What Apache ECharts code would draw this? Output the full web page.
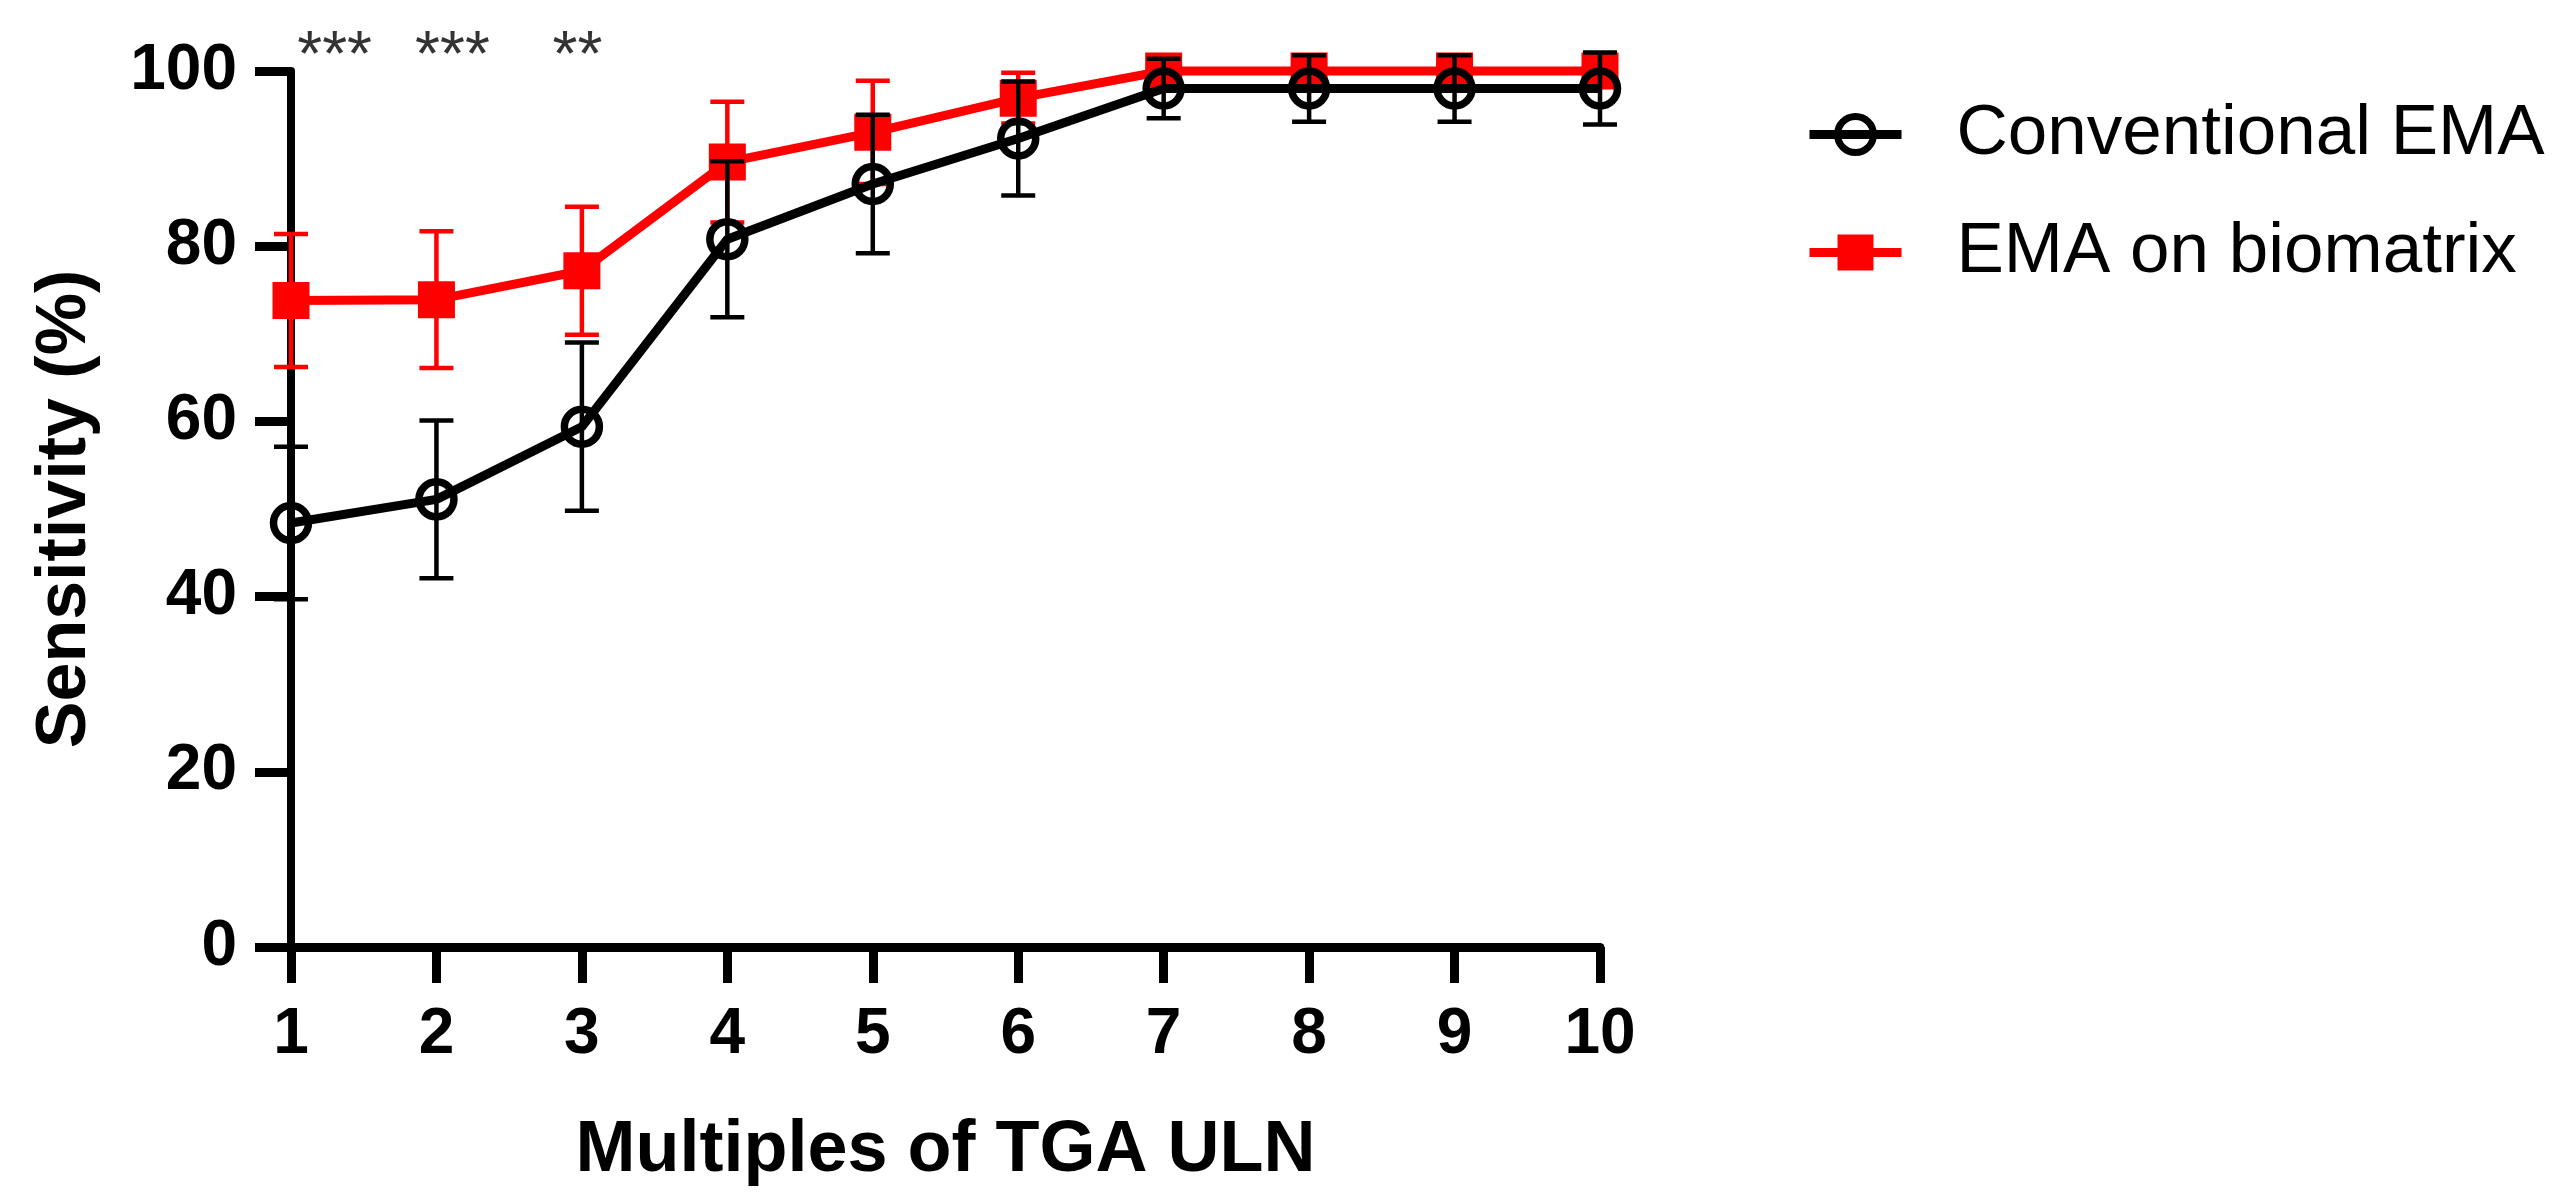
<!DOCTYPE html>
<html>
<head>
<meta charset="utf-8">
<script src="https://cdn.jsdelivr.net/npm/echarts@6/dist/echarts.min.js"></script>
<style>
html,body{margin:0;padding:0;background:#fff;}
#chart{width:2561px;height:1202px;}
</style>
</head>
<body>
<div id="chart"></div>
<script>
// ---- data ----
const multiples = [1, 2, 3, 4, 5, 6, 7, 8, 9, 10];
const conventionalMean = [48.4, 51.1, 59.4, 80.8, 87.1, 92.3, 98.0, 98.0, 98.0, 98.0];
const conventionalErr  = [8.7, 9.0, 9.6, 8.9, 7.9, 6.5, 3.4, 3.8, 3.8, 4.1];
const biomatrixMean = [73.8, 73.9, 77.2, 89.6, 93.0, 96.9, 100, 100, 100, 100];
const biomatrixErr  = [7.6, 7.8, 7.3, 6.9, 5.9, 2.9, 0, 0, 0, 0];
const sigLabels = ['***', '***', '**'];
const sigX = [1.30, 2.11, 2.97];
const sigY = [101.4, 101.4, 101.4];
const yTicks = [0, 20, 40, 60, 80, 100];

const seriesNames = ['Conventional EMA', 'EMA on biomatrix'];

function pairs(xs, ys) { return xs.map((x, i) => [x, ys[i]]); }
function errData(xs, m, e) { return xs.map((x, i) => [x, m[i] - e[i], m[i] + e[i]]); }

function errorBarSeries(name, data, color, z) {
  return {
    type: 'custom',
    name: name + ' err',
    z: z,
    silent: true,
    clip: false,
    data: data,
    encode: { x: 0, y: [1, 2] },
    renderItem: function (params, api) {
      const x = api.value(0);
      const lo = api.coord([x, api.value(1)]);
      const hi = api.coord([x, api.value(2)]);
      if (Math.abs(lo[1] - hi[1]) < 1) return null;
      const hw = 17;
      const st = { stroke: color, lineWidth: 4.5 };
      return {
        type: 'group',
        children: [
          { type: 'line', shape: { x1: lo[0], y1: lo[1], x2: hi[0], y2: hi[1] }, style: st },
          { type: 'line', shape: { x1: lo[0] - hw, y1: lo[1], x2: lo[0] + hw, y2: lo[1] }, style: st },
          { type: 'line', shape: { x1: hi[0] - hw, y1: hi[1], x2: hi[0] + hw, y2: hi[1] }, style: st }
        ]
      };
    }
  };
}

const chart = echarts.init(document.getElementById('chart'), null, { renderer: 'canvas' });
const bold = { fontFamily: 'Liberation Sans, Arial, sans-serif', fontWeight: 'bold', color: '#000' };

chart.setOption({
  backgroundColor: '#fff',
  animation: false,
  grid: { left: 291, right: 961, top: 71, bottom: 255, containLabel: false },
  legend: {
    left: 1800,
    top: 94,
    orient: 'vertical',
    itemWidth: 92,
    itemHeight: 45,
    itemGap: 47,
    data: [
      { name: seriesNames[0], lineStyle: { width: 9, color: '#000' }, itemStyle: { color: 'rgba(0,0,0,0)', borderColor: '#000', borderWidth: 7 } },
      { name: seriesNames[1], lineStyle: { width: 9, color: '#ff0000' }, itemStyle: { color: '#ff0000', borderWidth: 0 } }
    ],
    textStyle: { fontFamily: 'Liberation Sans, Arial, sans-serif', fontSize: 71, color: '#000', padding: [0, 0, 0, 50] }
  },
  xAxis: {
    type: 'value',
    min: 1, max: 10, interval: 1,
    name: 'Multiples of TGA ULN',
    nameLocation: 'middle',
    nameGap: 168,
    nameTextStyle: Object.assign({ fontSize: 72 }, bold),
    axisLine: { show: true, lineStyle: { color: '#000', width: 9 } },
    axisTick: { show: true, length: 36, lineStyle: { color: '#000', width: 9 } },
    axisLabel: Object.assign({ fontSize: 64, margin: 56 }, bold),
    splitLine: { show: false }
  },
  yAxis: {
    type: 'value',
    min: 0, max: 100, interval: 20,
    name: 'Sensitivity (%)',
    nameLocation: 'middle',
    nameGap: 190,
    nameTextStyle: Object.assign({ fontSize: 70 }, bold),
    axisLine: { show: true, lineStyle: { color: '#000', width: 8 } },
    axisTick: { show: true, length: 36, lineStyle: { color: '#000', width: 9 } },
    axisLabel: Object.assign({ fontSize: 64, margin: 54, formatter: function (v) { return yTicks.indexOf(v) >= 0 ? String(v) : ''; } }, bold),
    splitLine: { show: false }
  },
  series: [
    errorBarSeries(seriesNames[1], errData(multiples, biomatrixMean, biomatrixErr), '#ff0000', 2),
    {
      type: 'line',
      name: seriesNames[1],
      z: 3,
      data: pairs(multiples, biomatrixMean),
      symbol: 'rect',
      symbolSize: 37,
      lineStyle: { color: '#ff0000', width: 9 },
      itemStyle: { color: '#ff0000' },
      clip: false
    },
    errorBarSeries(seriesNames[0], errData(multiples, conventionalMean, conventionalErr), '#000000', 4),
    {
      type: 'line',
      name: seriesNames[0],
      z: 5,
      data: pairs(multiples, conventionalMean),
      symbol: 'circle',
      symbolSize: 35,
      lineStyle: { color: '#000', width: 9 },
      itemStyle: { color: 'rgba(0,0,0,0)', borderColor: '#000', borderWidth: 7.5 },
      clip: false
    },
    {
      type: 'scatter',
      name: 'significance',
      z: 6,
      silent: true,
      clip: false,
      symbolSize: 1,
      itemStyle: { color: 'rgba(0,0,0,0)' },
      data: sigX.map((x, i) => ({ value: [x, sigY[i]], label: { formatter: sigLabels[i] } })),
      label: { show: true, position: 'inside', fontFamily: 'Liberation Sans, Arial, sans-serif', fontSize: 64, color: '#000' }
    }
  ]
});
</script>
</body>
</html>
